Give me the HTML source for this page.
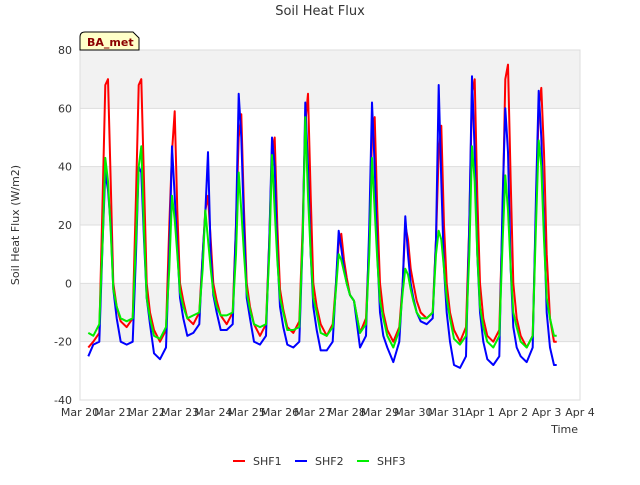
<!DOCTYPE html>
<html><head><meta charset="utf-8"><style>
body{margin:0;background:#fff;font-family:"Liberation Sans","DejaVu Sans",sans-serif}
svg text{font-family:"DejaVu Sans","Liberation Sans",sans-serif}
</style></head><body>
<svg id="c" width="640" height="480" xmlns="http://www.w3.org/2000/svg">
<text x="320" y="15" text-anchor="middle" font-size="13" fill="#333">Soil Heat Flux</text>
<g id="bands"></g><g id="grid"></g>
<rect x="80" y="50" width="500" height="350" fill="none" stroke="#ddd"/>
<g id="axes"></g><g id="series"></g>
<text x="19" y="225" transform="rotate(-90 19 225)" text-anchor="middle" font-size="11" fill="#333">Soil Heat Flux (W/m2)</text>
<text x="578" y="433" text-anchor="end" font-size="11" fill="#333">Time</text>
<g>
<path d="M80,50 L80,37 Q80,32 85,32 L133,32 L139,38 L139,50 Z" fill="#ffffc8" stroke="#000"/>
<text x="87" y="46" font-size="11" font-weight="bold" fill="#8b0000">BA_met</text></g>
<g id="legend"></g>
</svg>
<script>
const yTicks=[-40,-20,0,20,40,60,80];
const xTickLabels=["Mar 20","Mar 21","Mar 22","Mar 23","Mar 24","Mar 25","Mar 26","Mar 27","Mar 28","Mar 29","Mar 30","Mar 31","Apr 1","Apr 2","Apr 3","Apr 4"];
const seriesNames=["SHF1","SHF2","SHF3"];
const seriesColors=["#ff0000","#0000ff","#00ee00"];
const times=[0.25,
0.4,0.58,0.68,0.76,0.84,0.92,1.0,1.1,1.22,
1.4,1.58,1.68,1.76,1.84,1.92,2.0,2.1,2.22,
2.4,2.58,2.68,2.76,2.84,2.92,3.0,3.1,3.22,
3.4,3.58,3.68,3.76,3.84,3.92,4.0,4.1,4.22,
4.4,4.58,4.68,4.76,4.84,4.92,5.0,5.1,5.22,
5.4,5.58,5.68,5.76,5.84,5.92,6.0,6.1,6.22,
6.4,6.58,6.68,6.76,6.84,6.92,7.0,7.1,7.22,
7.4,7.58,7.68,7.76,7.84,7.92,8.0,8.1,8.22,
8.4,8.58,8.68,8.76,8.84,8.92,9.0,9.1,9.22,
9.4,9.58,9.68,9.76,9.84,9.92,10.0,10.1,10.22,
10.4,10.58,10.68,10.76,10.84,10.92,11.0,11.1,11.22,
11.4,11.58,11.68,11.76,11.84,11.92,12.0,12.1,12.22,
12.4,12.58,12.68,12.76,12.84,12.92,13.0,13.1,13.22,
13.4,13.58,13.68,13.76,13.84,13.92,14.0,14.1,14.22,
14.3];
const shf1=[-22,
-20,-17,30,68,70,35,0,-8,-13,
-15,-12,30,68,70,35,0,-10,-16,
-20,-16,20,45,59,25,0,-6,-12,
-14,-10,10,25,30,15,0,-6,-11,
-14,-10,20,50,58,25,0,-8,-14,
-18,-14,15,45,50,20,-2,-9,-15,
-17,-13,20,55,65,30,0,-8,-14,
-18,-14,0,14,17,8,2,-4,-6,
-17,-12,15,50,57,25,0,-10,-16,
-20,-15,0,20,15,5,0,-6,-10,
-12,-10,15,45,54,20,0,-10,-16,
-20,-15,20,65,70,30,0,-12,-18,
-20,-16,25,70,75,35,0,-12,-18,
-22,-18,25,60,67,45,10,-12,-20,
-20];
const shf2=[-25,
-21,-20,15,38,32,20,-2,-12,-20,
-21,-20,10,40,38,15,-5,-14,-24,
-26,-22,10,47,30,12,-5,-12,-18,
-17,-14,10,24,45,10,-4,-10,-16,
-16,-14,20,65,50,20,-5,-12,-20,
-21,-18,15,50,40,10,-8,-15,-21,
-22,-20,15,62,40,10,-8,-16,-23,
-23,-20,0,18,12,5,0,-4,-6,
-22,-18,20,62,40,10,-10,-18,-22,
-27,-20,0,23,10,0,-5,-10,-13,
-14,-12,15,68,35,5,-10,-20,-28,
-29,-25,20,71,45,10,-10,-20,-26,
-28,-25,30,60,45,5,-15,-22,-25,
-27,-22,30,66,50,20,-10,-22,-28,
-28];
const shf3=[-17,
-18,-14,15,43,35,18,-2,-8,-12,
-13,-12,15,40,47,18,-5,-12,-18,
-19,-15,5,30,22,10,-3,-8,-12,
-11,-10,5,25,15,5,-3,-8,-11,
-11,-10,10,38,25,10,-3,-9,-14,
-15,-14,10,44,25,8,-5,-10,-16,
-16,-15,15,57,30,10,-5,-10,-17,
-18,-15,-2,10,8,4,0,-4,-6,
-17,-14,10,43,25,8,-6,-12,-18,
-22,-16,-3,5,3,-2,-6,-10,-12,
-12,-10,10,18,15,5,-5,-12,-19,
-21,-18,10,47,35,10,-8,-15,-20,
-22,-18,15,37,25,5,-10,-15,-20,
-22,-18,20,49,40,15,-5,-12,-18,
-18];
const NS="http://www.w3.org/2000/svg";
const X=d=>80+d*500/15, Y=v=>50+(80-v)*350/120;
function mk(p,tag,attrs){const e=document.createElementNS(NS,tag);for(const k in attrs)e.setAttribute(k,attrs[k]);p.appendChild(e);return e;}
const bands=document.getElementById('bands'),grid=document.getElementById('grid'),axes=document.getElementById('axes'),ser=document.getElementById('series'),leg=document.getElementById('legend');
for(let i=0;i<yTicks.length-1;i++){ if(i%2===1){const r=mk(bands,'rect',{x:80,y:Y(yTicks[i+1]),width:500,height:Y(yTicks[i])-Y(yTicks[i+1]),fill:'#f2f2f2'});

}}
yTicks.forEach(v=>{const l=mk(grid,'line',{x1:80,x2:580,y1:Y(v),y2:Y(v),stroke:'#ddd'});


const t=mk(axes,'text',{x:72,y:Y(v)+4,'text-anchor':'end','font-size':11,fill:'#333'});t.textContent=v;

});
xTickLabels.forEach((s,i)=>{const t=mk(axes,'text',{x:X(i),y:416,'text-anchor':'middle','font-size':11,fill:'#333'});t.textContent=s;

});
[shf1,shf2,shf3].forEach((arr,si)=>{const pts=arr.map((v,i)=>X(times[i]).toFixed(1)+','+Y(v).toFixed(1)).join(' ');
const p=mk(ser,'polyline',{points:pts,fill:'none',stroke:seriesColors[si],'stroke-width':2,'stroke-linejoin':'round'});

});
seriesNames.forEach((n,i)=>{const g=mk(leg,'g',{});


const x0=233+i*62;mk(g,'line',{x1:x0,x2:x0+12,y1:461,y2:461,stroke:seriesColors[i],'stroke-width':2});
const t=mk(g,'text',{x:x0+20,y:465,'font-size':11,fill:'#333'});t.textContent=n;});
</script>
</body></html>
